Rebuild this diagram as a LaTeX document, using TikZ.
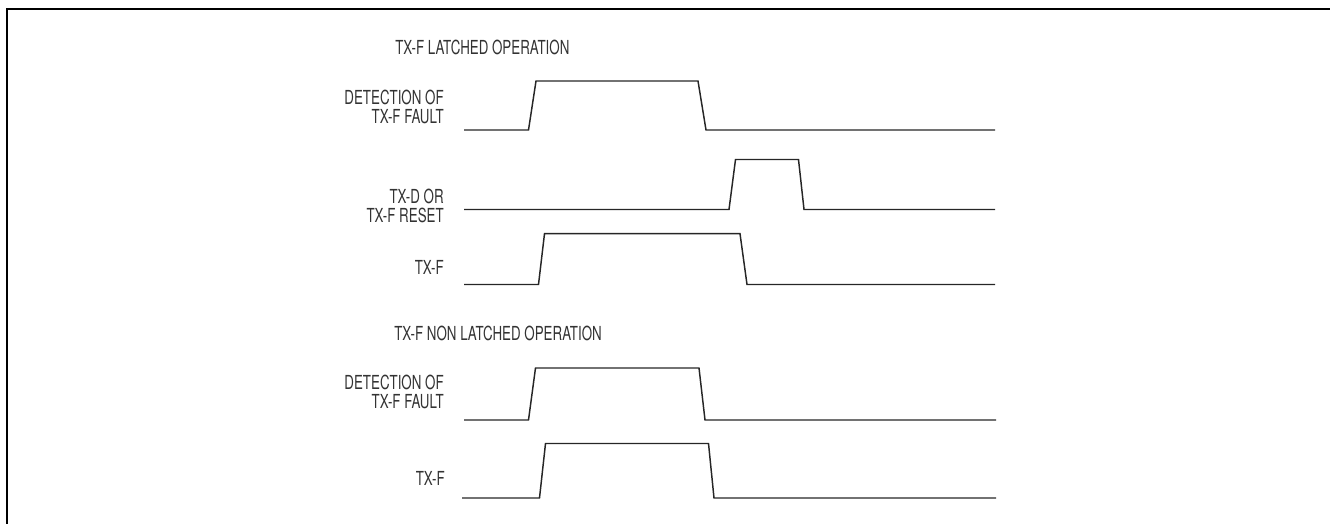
\documentclass[tikz,border=0pt]{standalone}
\usepackage{fontspec}
\setmainfont{TeX Gyre Heros}[FakeStretch=0.69]
\tikzset{
  wave/.style={line width=1.1pt, color=black!85, line join=miter},
  sig/.style={anchor=east, align=right, inner sep=0pt, text=black!80,
    font=\fontsize{14.5}{14.6}\selectfont},
  title/.style={anchor=west, inner sep=0pt, text=black!80,
    font=\fontsize{14.5}{14.6}\selectfont}
}
\begin{document}
\begin{tikzpicture}[x=0.75pt, y=-0.75pt]
  \useasboundingbox (0,0) rectangle (1330,524);
  \draw[line width=1.6pt] (7,524) -- (7,9) -- (1330,9);

  \node[title] (t1) at (395,47) {TX-F LATCHED OPERATION};
  \node[sig] (s1) at (444,107) {DETECTION OF\\TX-F FAULT};
  \node[sig] (s2) at (444,206) {TX-D OR\\TX-F RESET};
  \node[sig] (s3) at (444,267) {TX-F};
  \node[title] (t2) at (394,333) {TX-F NON LATCHED OPERATION};
  \node[sig] (s4) at (444,392) {DETECTION OF\\TX-F FAULT};
  \node[sig] (s5) at (445,478) {TX-F};

  % latched
  \draw[wave] (464,130) -- (528.5,130) -- (536,81) -- (698,81) -- (706,130) -- (995,130);
  \draw[wave] (464,209.5) -- (729,209.5) -- (735.5,159.5) -- (798.5,159.5) -- (804,209.5) -- (995,209.5);
  \draw[wave] (464,284.5) -- (538.5,284.5) -- (544.5,233.7) -- (740,233.7) -- (747,284.5) -- (995,284.5);
  % non latched
  \draw[wave] (464,420) -- (528.5,420) -- (535.5,368) -- (699,368) -- (705,420) -- (996,420);
  \draw[wave] (462,498) -- (539.5,498) -- (545.5,443.5) -- (708.5,443.5) -- (714,498) -- (996,498);
\end{tikzpicture}
\end{document}
